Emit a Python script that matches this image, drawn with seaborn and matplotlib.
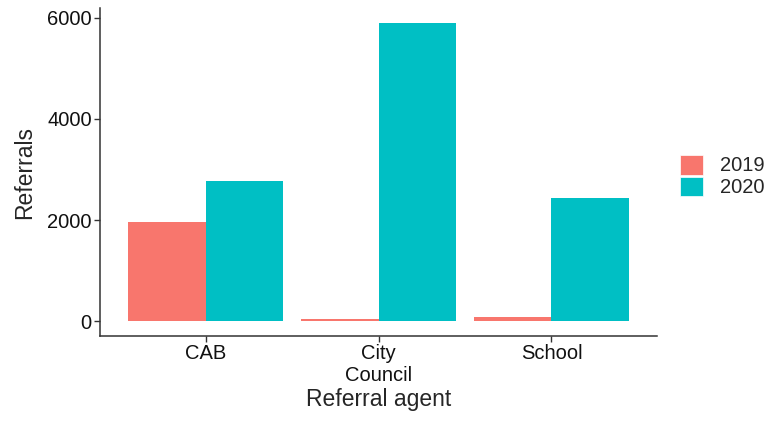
import pandas as pd
import seaborn as sns
import matplotlib.pyplot as plt
from matplotlib.patches import Patch

# 数据
agents = ['CAB', 'City\nCouncil', 'School']
years = ['2019', '2020']
referrals_2019 = [1955, 45, 75]
referrals_2020 = [2765, 5900, 2430]
palette = ['#F8766D', '#00BFC4']

df = pd.DataFrame({
    'agent': agents * 2,
    'year': [years[0]] * 3 + [years[1]] * 3,
    'referrals': referrals_2019 + referrals_2020,
})

sns.set_style('white')
plt.rcParams['font.family'] = ['Liberation Sans', 'DejaVu Sans']

fig = plt.figure(figsize=(7.72, 4.23), dpi=100)
ax = fig.add_axes([100 / 772, 1 - 336 / 423, 557 / 772, 328 / 423])

sns.barplot(data=df, x='agent', y='referrals', hue='year', hue_order=years,
            palette=palette, width=0.9, saturation=1, errorbar=None,
            linewidth=0, ax=ax)

ymax = max(referrals_2020)
ax.set_ylim(-0.05 * ymax, 1.05 * ymax)
ax.set_xlim(-0.61, 2.61)
ax.set_yticks([0, 2000, 4000, 6000])

for s in ['top', 'right']:
    ax.spines[s].set_visible(False)
for s in ['left', 'bottom']:
    ax.spines[s].set_color('#333333')
    ax.spines[s].set_linewidth(1.1)

ax.tick_params(axis='both', which='both', length=4, width=1, color='#333333',
               labelsize=14.5, labelcolor='#111111', pad=2, direction='out',
               bottom=True, left=True)

ax.set_xlabel('Referral agent', fontsize=16.5, labelpad=2)
ax.set_ylabel('Referrals', fontsize=16.5, labelpad=8)

ax.get_legend().remove()
handles = [Patch(facecolor=c, edgecolor='white', linewidth=0.5) for c in palette]
fig.legend(handles, years, loc='center left', bbox_to_anchor=(680 / 772, 1 - 176 / 423),
           frameon=False, fontsize=14.5, handlelength=1.15, handleheight=1.15,
           handletextpad=0.85, labelspacing=0.05, borderpad=0, borderaxespad=0)

fig.savefig('out.png', dpi=100)
